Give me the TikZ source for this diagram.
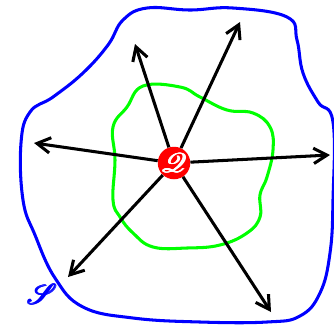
\documentclass[tikz,border=0pt]{standalone}
\usepackage{mathrsfs}
\usepackage{graphicx}
\usetikzlibrary{arrows.meta}

\newcommand*{\picw}{334}
\newcommand*{\pich}{325}
% poor man's bold for the script letters
\newcommand*{\heavy}[1]{\rlap{#1}\rlap{\raisebox{0.25pt}{#1}}\kern0.25pt\rlap{#1}\rlap{\raisebox{0.25pt}{#1}}\kern0.25pt#1}

\begin{document}
\begin{tikzpicture}
[
	x=0.03cm,
	y=-0.03cm,
	charge/.style={circle,fill=red,inner sep=0pt,minimum size=0.78cm,text=white},
	fieldline/.style={-{Straight Barb[length=4mm,width=4.6mm]},line width=2.6pt},
	surface/.style={line width=2.6pt,smooth cycle,tension=0.7}
]
	\useasboundingbox (0,0) rectangle (\picw,\pich);

	% surfaces
	\draw[surface,blue] plot coordinates {(147,8) (190,10) (233,8) (287,17) (297,40) (303,73) (318,102) (333,122) (333,200) (330,253) (320,293) (300,316) (267,322) (200,322) (133,318) (83,307) (55,278) (35,235) (23,200) (21,143) (30,112) (53,97) (83,73) (108,45) (123,20)};
	\draw[surface,green] plot coordinates {(143,86) (180,87) (200,97) (227,110) (253,113) (270,127) (273,150) (267,177) (260,195) (260,217) (247,233) (220,245) (187,248) (153,247) (133,233) (120,217) (113,200) (115,160) (113,127) (127,107)};
	\node[blue] (s) at (42,294) {\scalebox{2.4}{\heavy{$\mathscr{S}$}}};

	% charge
	\node[charge] (q) at (174,163) {\scalebox{2.3}{\heavy{$\mathscr{Q}$}}};

	% field lines
	\coordinate (nw) at (135,44);
	\coordinate (ne) at (240,22);
	\coordinate (w) at (34,143);
	\coordinate (e) at (330,155);
	\coordinate (sw) at (68,277);
	\coordinate (se) at (271,312);
	\foreach \p in {nw,ne,w,e,sw,se}
		\draw[fieldline] (q) -- (\p);

\end{tikzpicture}
\end{document}
